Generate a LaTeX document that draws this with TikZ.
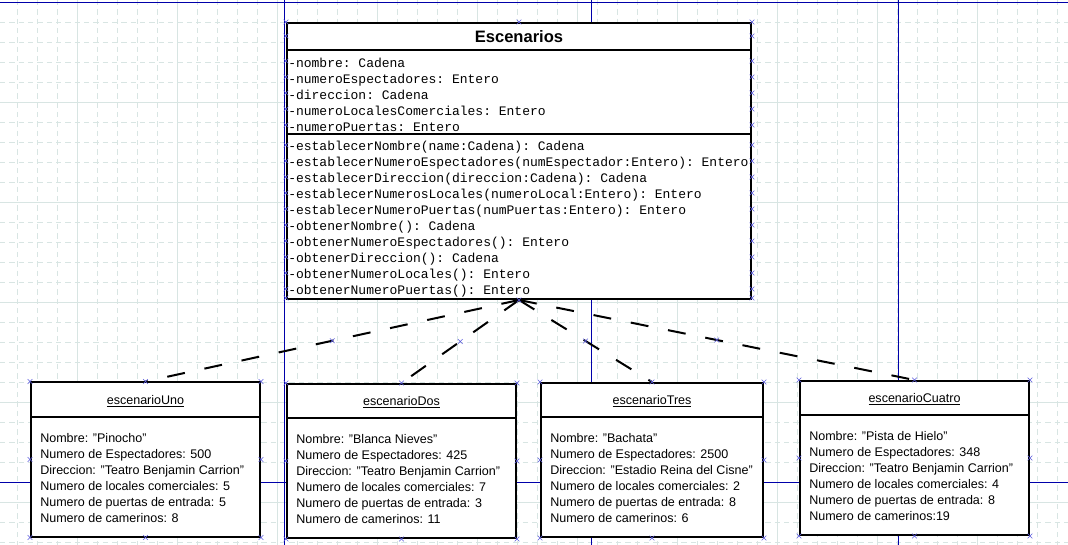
\documentclass[tikz,border=0pt]{standalone}
\usepackage{fontspec}
\setmainfont{Liberation Sans}
\setmonofont{Liberation Mono}
\usetikzlibrary{calc,          % .
                shapes.misc}   % .
\definecolor{gridline}{RGB}{216,229,227}
\definecolor{pageline}{RGB}{0,0,170}
\definecolor{handleblue}{RGB}{90,90,220}

\begin{document}
\begin{tikzpicture}[x=0.75pt,y=-0.75pt]
                % define styles
\tikzset{classbox/.style={draw=black,
                          fill=white,
                          line width=1.5pt,
                          inner sep=0,
                          },
         sepline/.style={line width=1.5pt},
         link/.style={line width=1.5pt,
                      dash pattern=on 13.5pt off 15pt},
         handle/.style={cross out,
                        draw=handleblue,
                        line width=0.5pt,
                        inner sep=0,
                        minimum size=3pt},
         attr/.style={anchor=base west, inner sep=0,
                      font=\ttfamily\fontsize{9.75}{12}\selectfont},
         slot/.style={anchor=base west, inner sep=0,
                      font=\fontsize{9.4}{12}\selectfont},
         objtitle/.style={anchor=base, inner sep=0,
                          font=\fontsize{9.4}{12}\selectfont}
}

\useasboundingbox (0,0) rectangle (1068,545);

% background grid
\foreach \x in {17,37,...,1067}
    \draw[gridline, dash pattern=on 4pt off 3pt] (\x,0) -- (\x,545);
\foreach \y in {22,42,...,542}
    \draw[gridline, dash pattern=on 4pt off 3pt] (0,\y) -- (1068,\y);
\foreach \x in {77,177,...,977}
    \draw[gridline] (\x,0) -- (\x,545);
\foreach \y in {102,202,...,502}
    \draw[gridline] (0,\y) -- (1068,\y);

% page borders
\draw[pageline] (0,2) -- (1068,2);
\draw[pageline] (0,482) -- (1068,482);
\foreach \x in {284,591,898}
    \draw[pageline] (\x,0) -- (\x,545);

% class
\node[classbox, minimum width=348pt, minimum height=207pt] (escenarios) at (519,161) {};
\draw[sepline] ($(escenarios.north west)+(0,28)$) -- ($(escenarios.north east)+(0,28)$);
\draw[sepline] ($(escenarios.north west)+(0,112)$) -- ($(escenarios.north east)+(0,112)$);
\node[anchor=base, inner sep=0, font=\bfseries\fontsize{12.4}{15}\selectfont]
    (clstitle) at ($(escenarios.north)+(0,20.5)$) {Escenarios};

\foreach \txt [count=\i from 0] in {-nombre: Cadena,
                                    -numeroEspectadores: Entero,
                                    -direccion: Cadena,
                                    -numeroLocalesComerciales: Entero,
                                    -numeroPuertas: Entero}
    \node[attr] at ($(escenarios.north west)+(2,45.5+16*\i)$) {\txt};

\foreach \txt [count=\i from 0] in {-establecerNombre(name:Cadena): Cadena,
                                    -establecerNumeroEspectadores(numEspectador:Entero): Entero,
                                    -establecerDireccion(direccion:Cadena): Cadena,
                                    -establecerNumerosLocales(numeroLocal:Entero): Entero,
                                    -establecerNumeroPuertas(numPuertas:Entero): Entero,
                                    -obtenerNombre(): Cadena,
                                    -obtenerNumeroEspectadores(): Entero,
                                    -obtenerDireccion(): Cadena,
                                    -obtenerNumeroLocales(): Entero,
                                    -obtenerNumeroPuertas(): Entero}
    \node[attr] at ($(escenarios.north west)+(2,128.7+16*\i)$) {\txt};

% objects
\foreach \name/\cx/\cy/\w in {escenarioUno/145.5/459.5/171.75pt,
                              escenarioDos/401.5/461/171.75pt,
                              escenarioTres/652/460/166.5pt,
                              escenarioCuatro/914.5/458/171.75pt}
{
    \node[classbox, minimum width=\w, minimum height=115.5pt] (\name) at (\cx,\cy) {};
    \draw[sepline] ($(\name.north west)+(0,35)$) -- ($(\name.north east)+(0,35)$);
    \node[objtitle] at ($(\name.north)+(0,22.5)$) {\underline{\name}};
}

\foreach \txt [count=\i from 0] in {Nombre: "Pinocho",
                                    Numero de Espectadores: 500,
                                    Direccion: "Teatro Benjamin Carrion",
                                    Numero de locales comerciales: 5,
                                    Numero de puertas de entrada: 5,
                                    Numero de camerinos: 8}
    \node[slot] at ($(escenarioUno.north west)+(10,60.5+16*\i)$) {\txt};

\foreach \txt [count=\i from 0] in {Nombre: "Blanca Nieves",
                                    Numero de Espectadores: 425,
                                    Direccion: "Teatro Benjamin Carrion",
                                    Numero de locales comerciales: 7,
                                    Numero de puertas de entrada: 3,
                                    Numero de camerinos: 11}
    \node[slot] at ($(escenarioDos.north west)+(10,60.5+16*\i)$) {\txt};

\foreach \txt [count=\i from 0] in {Nombre: "Bachata",
                                    Numero de Espectadores: 2500,
                                    Direccion: "Estadio Reina del Cisne",
                                    Numero de locales comerciales: 2,
                                    Numero de puertas de entrada: 8,
                                    Numero de camerinos: 6}
    \node[slot] at ($(escenarioTres.north west)+(10,60.5+16*\i)$) {\txt};

\foreach \txt [count=\i from 0] in {Nombre: "Pista de Hielo",
                                    Numero de Espectadores: 348,
                                    Direccion: "Teatro Benjamin Carrion",
                                    Numero de locales comerciales: 4,
                                    Numero de puertas de entrada: 8,
                                    Numero de camerinos:19}
    \node[slot] at ($(escenarioCuatro.north west)+(10,60.5+16*\i)$) {\txt};

% links
\foreach \obj in {escenarioUno,escenarioDos,escenarioTres,escenarioCuatro}
    \draw[link] (escenarios.south) -- node[handle] {} (\obj.north);

% handles
\foreach \y in {0,14,39,55,...,103,276}
{
    \node[handle] at ($(escenarios.north west)+(0,\y)$) {};
    \node[handle] at ($(escenarios.north east)+(0,\y)$) {};
}
\foreach \y in {123,139,...,267}
{
    \node[handle] at ($(escenarios.north west)+(0,\y)$) {};
    \node[handle] at ($(escenarios.north east)+(0,\y)$) {};
}
\node[handle] at (escenarios.north) {};
\node[handle] at (escenarios.south) {};
\foreach \obj in {escenarioUno,escenarioDos,escenarioTres,escenarioCuatro}
    \foreach \a in {north west,north,north east,east,south east,south,south west,west}
        \node[handle] at (\obj.\a) {};

\end{tikzpicture}
\end{document}
